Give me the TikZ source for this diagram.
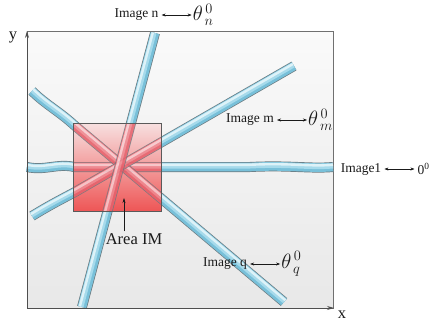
\documentclass[tikz,border=0pt]{standalone}
\usepackage{fontspec}
\setmainfont{Liberation Serif}
\usetikzlibrary{
  arrows.meta,
  calc,
  positioning
}
\definecolor{figInk}{HTML}{1A1A1A}
\definecolor{figFrame}{HTML}{707070}
\definecolor{stripLine}{HTML}{6B7A80}
\definecolor{blueDark}{HTML}{78C0D9}
\definecolor{blueMid}{HTML}{A6DAEB}
\definecolor{blueLight}{HTML}{DDF2F8}
\definecolor{redDark}{HTML}{E5606B}
\definecolor{redMid}{HTML}{EE8890}
\definecolor{redLight}{HTML}{F8CDD1}
\definecolor{areaTop}{HTML}{F7E0E0}
\definecolor{areaBottom}{HTML}{EE5656}
\tikzset{
  every node/.style={font=\fontsize{13.5}{15}\selectfont, text=figInk},
  tag/.style={inner sep=3pt},
  angle/.style={inner sep=1pt, font=\fontsize{20}{22}\selectfont},
  bigtag/.style={inner sep=2pt, font=\fontsize{16.5}{18}\selectfont},
  pair/.style={
    {Stealth[length=4pt,width=3pt]}-{Stealth[length=4pt,width=3pt]},
    line width=0.5pt,
    draw=figInk
  },
  axis/.style={
    -{Stealth[length=7pt,width=4pt]},
    line width=0.8pt,
    draw=figFrame!70!black
  },
  pointer/.style={
    -{Stealth[length=5pt,width=3pt]},
    line width=0.5pt,
    draw=figInk
  }
}
% one strip, light on the side (#2), opacity #3
\newcommand\stripbody[4]{%
  \begin{scope}[transparency group, opacity=#3]
    \draw[line width=10pt, stripLine] #4;
    \draw[line width=8.6pt, #1Dark] #4;
    \draw[line width=5.4pt, #1Mid, shift={($1.2*(#2)$)}] #4;
    \draw[line width=2.4pt, #1Light, shift={($2.2*(#2)$)}] #4;
  \end{scope}
}
% the four image strips
\newcommand\allstrips[2]{%
  \stripbody{#1}{0,-1}{#2}{(27,167) .. controls (45,171) and (58,163) .. (74,167) -- (250,167) .. controls (290,165) and (310,169) .. (333,167)}
  \stripbody{#1}{0.645,-0.765}{#2}{(32,91) .. controls (45,104) and (60,112) .. (74,125) -- (284,302)}
  \stripbody{#1}{-0.497,-0.868}{#2}{(32,216) .. controls (50,205) and (60,200) .. (75,192) -- (294,66)}
  \stripbody{#1}{-0.966,-0.257}{#2}{(155,33) -- (82,307)}
}

\begin{document}
\begin{tikzpicture}[x=1pt, y=-1pt]
  \useasboundingbox (0,0) rectangle (432,325);

  % frame and axes
  \coordinate (origin) at (27,308);
  \coordinate (ytip) at (27,31);
  \coordinate (xtip) at (334,308);
  \coordinate (sqa) at (73,123);
  \coordinate (sqb) at (161,211);
  \shade[top color=black!2, bottom color=black!9] (27,31) rectangle (333,308);
  \draw[figFrame, line width=0.8pt] (27,31) rectangle (333,308);

  \allstrips{blue}{1}

  % area IM
  \shade[top color=areaTop, bottom color=areaBottom] (sqa) rectangle (sqb);
  \begin{scope}
    \clip (sqa) rectangle (sqb);
    \allstrips{red}{0.85}
  \end{scope}
  \draw[figFrame!80!black, line width=0.7pt] (sqa) rectangle (sqb);

  \draw[axis] (origin) -- (ytip);
  \draw[axis] (origin) -- (xtip);
  \node[bigtag] (ylab) at (13,37) {y};
  \node[bigtag] (xlab) at (342,315) {x};

  \node[bigtag] (area) at (134,239) {Area IM};
  \coordinate (imtip) at (124,198);
  \draw[pointer] (area.north -| imtip) -- (imtip);

  % angle labels
  \node[tag] (imgn) at (136.5,15) {Image n};
  \node[angle, right=30pt of imgn] (thn) {$\theta^{\,0}_{\,n}$};
  \draw[pair] (imgn.east) -- (imgn.east -| thn.west);

  \node[tag] (imgm) at (250,120) {Image m};
  \node[angle, right=30pt of imgm] (thm) {$\theta^{\,0}_{\,m}$};
  \draw[pair] (imgm.east) -- (imgm.east -| thm.west);

  \node[tag] (img1) at (361,169) {Image1};
  \node[tag, right=30pt of img1] (zero) {0\textsuperscript{0}};
  \draw[pair] (img1.east) -- (img1.east -| zero.west);

  \node[tag] (imgq) at (225,264) {Image q};
  \node[angle, right=30pt of imgq] (thq) {$\theta^{\,0}_{\,q}$};
  \draw[pair] (imgq.east) -- (imgq.east -| thq.west);
\end{tikzpicture}
\end{document}
